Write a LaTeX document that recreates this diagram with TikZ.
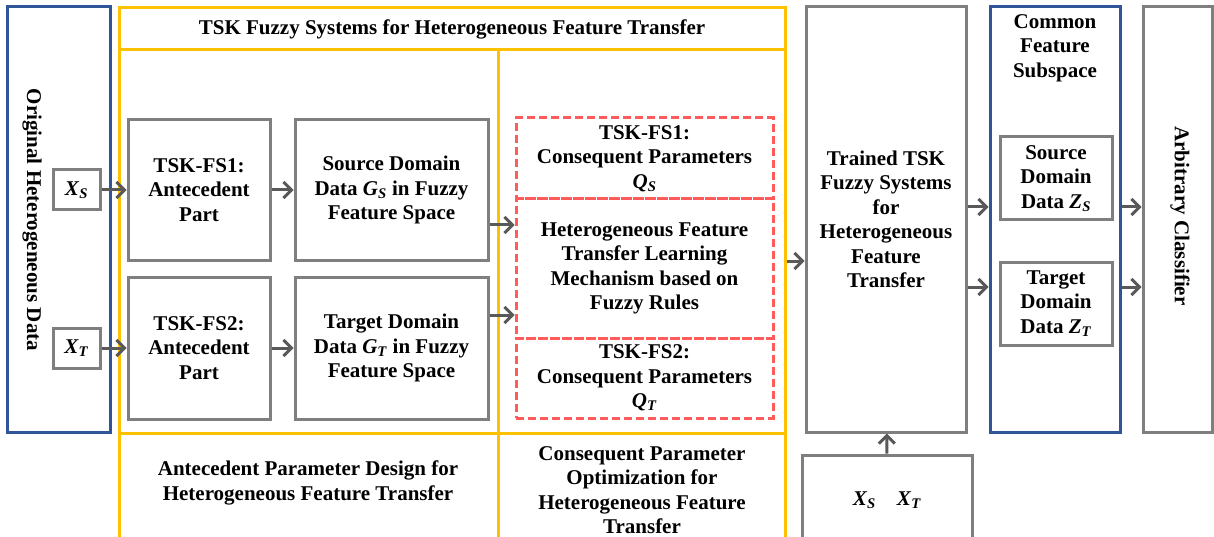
\documentclass[tikz,border=0pt]{standalone}
\usepackage{fontspec}
\setmainfont{Liberation Serif}
\usetikzlibrary{arrows.meta,positioning}
\tikzset{>/.tip={Straight Barb[length=8pt,width=16pt,line width=3pt]}}
\definecolor{boxgray}{HTML}{7F7F7F}
\definecolor{arrgray}{HTML}{595959}
\definecolor{frameblue}{HTML}{2F5597}
\definecolor{frameyellow}{HTML}{FFC000}
\definecolor{dashred}{HTML}{FF5B5B}
\newcommand\sub[2]{\textit{#1}\textsubscript{\textit{#2}}}
\tikzset{blk/.style={draw=boxgray,line width=3pt,align=center,inner sep=0pt}}
\tikzset{bluebox/.style={draw=frameblue,line width=3pt,inner sep=0pt}}
\tikzset{ybox/.style={draw=frameyellow,line width=3pt,inner sep=0pt,align=center}}
\tikzset{rbox/.style={draw=dashred,line width=3pt,dash pattern=on 8pt off 4pt,align=center,inner sep=0pt}}
\tikzset{arr/.style={->,draw=arrgray,line width=3pt}}

\begin{document}
\begin{tikzpicture}[x=1pt,y=-1pt,on grid,font=\fontsize{21}{24.5}\selectfont\bfseries]
        \useasboundingbox (0,0) rectangle (1214,537);
        \clip (0,0) rectangle (1214,537);
        % input data
        \node(orig)[bluebox,minimum width=103pt,minimum height=425pt] at (58.5,219.5) {};
        \node(origlbl)[rotate=-90] at (32,220) {Original Heterogeneous Data};
        \node(xs)[blk,minimum width=47pt,minimum height=40pt] at (76.5,190) {\sub{X}{S}};
        \node(xt)[blk,minimum width=47pt,minimum height=40pt,below=158pt of xs] {\sub{X}{T}};
        % TSK fuzzy systems frame
        \node(title)[ybox,minimum width=666pt,minimum height=42pt] at (452,29) {TSK Fuzzy Systems for Heterogeneous Feature Transfer};
        \node(body)[ybox,minimum width=666pt,minimum height=500pt,below=271pt of title] {};
        \draw[frameyellow,line width=3pt] (498,50) -- (498,550) (119,433) -- (785,433);
        \node(antlbl)[align=center] at (308,483) {Antecedent Parameter Design for\\Heterogeneous Feature Transfer};
        \node(conlbl)[align=center] at (642,490) {Consequent Parameter\\Optimization for\\Heterogeneous Feature\\Transfer};
        \node(fs1a)[blk,minimum width=142pt,minimum height=140pt] at (199,190) {TSK-FS1:\\Antecedent\\Part};
        \node(srcg)[blk,minimum width=193pt,minimum height=140pt,right=192.5pt of fs1a] {Source Domain\\Data \sub{G}{S} in Fuzzy\\Feature Space};
        \node(fs2a)[blk,minimum width=142pt,minimum height=142pt] at (199,348) {TSK-FS2:\\Antecedent\\Part};
        \node(tgtg)[blk,minimum width=193pt,minimum height=142pt,right=192.5pt of fs2a] {Target Domain\\Data \sub{G}{T} in Fuzzy\\Feature Space};
        \node(qs)[rbox,minimum width=257pt,minimum height=81pt] at (644.5,158.5) {TSK-FS1:\\Consequent Parameters\\\sub{Q}{S}};
        \node(mech)[rbox,minimum width=257pt,minimum height=139pt] at (644.5,268.5) {Heterogeneous Feature\\Transfer Learning\\Mechanism based on\\Fuzzy Rules};
        \node(qt)[rbox,minimum width=257pt,minimum height=80pt] at (644.5,378) {TSK-FS2:\\Consequent Parameters\\\sub{Q}{T}};
        % trained systems and common subspace
        \node(trained)[blk,minimum width=160pt,minimum height=425pt] at (886,219.5) {Trained TSK\\Fuzzy Systems\\for\\Heterogeneous\\Feature\\Transfer};
        \node(xsxt)[blk,minimum width=170pt,minimum height=90pt] at (887,500) {\sub{X}{S}\quad\sub{X}{T}};
        \node(common)[bluebox,minimum width=130pt,minimum height=425pt] at (1055,219.5) {};
        \node(commonlbl)[align=center] at (1055,48) {Common\\Feature\\Subspace};
        \node(zs)[blk,minimum width=112pt,minimum height=83pt] at (1056,178.5) {Source\\Domain\\Data \sub{Z}{S}};
        \node(zt)[blk,minimum width=112pt,minimum height=83pt,below=125pt of zs] {Target\\Domain\\Data \sub{Z}{T}};
        \node(clf)[blk,minimum width=69pt,minimum height=425pt] at (1177.5,219.5) {};
        \node(clflbl)[rotate=-90] at (1180,216) {Arbitrary Classifier};
        % connectors
        \draw[arr] (xs) -- (fs1a);
        \draw[arr] (xt) -- (fs2a);
        \draw[arr] (fs1a) -- (srcg);
        \draw[arr] (fs2a) -- (tgtg);
        \draw[arr] ([yshift=-35pt]srcg.east) -- ([yshift=-35pt]srcg.east -| mech.west);
        \draw[arr] ([yshift=33pt]tgtg.east) -- ([yshift=33pt]tgtg.east -| mech.west);
        \draw[arr] ([yshift=-41.5pt]trained.west -| body.east) -- ([yshift=-41.5pt]trained.west);
        \draw[arr] (xsxt) -- (trained);
        \foreach \dy in {12.5,-67.5}{
          \draw[arr] ([yshift=\dy pt]trained.east) -- ([yshift=\dy pt]trained.east -| common.west);
          \draw[arr] ([yshift=\dy pt]common.east) -- ([yshift=\dy pt]common.east -| clf.west);
        }
      \end{tikzpicture}
\end{document}
